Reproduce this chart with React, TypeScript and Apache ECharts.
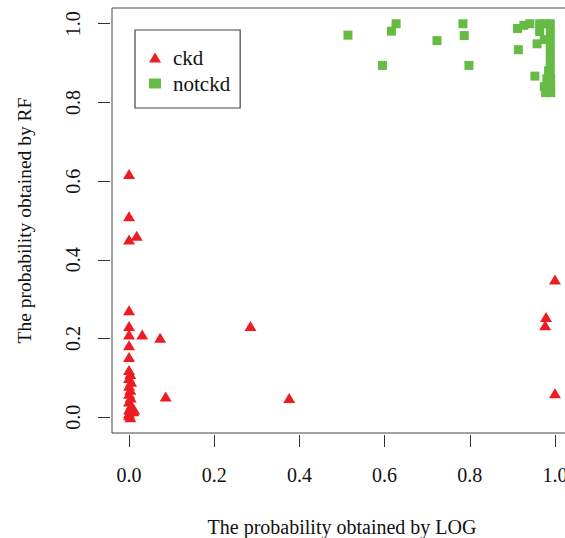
import React, { useEffect, useRef } from "react";
import * as echarts from "echarts";

const tickValues = [0, 0.2, 0.4, 0.6, 0.8, 1.0];
const seriesNames = ["ckd", "notckd"];

// [LOG probability, RF probability]
const ckdPoints = [
  [0, 0.618], [0, 0.511], [0, 0.452], [0.018, 0.461], [0, 0.272], [0, 0.232],
  [0, 0.21], [0.031, 0.21], [0.073, 0.202], [0.285, 0.232], [0, 0.183], [0, 0.153],
  [0.086, 0.053], [0.376, 0.049], [1.0, 0.35], [0.979, 0.255], [0.977, 0.234], [1.0, 0.061],
  [0, 0.12], [0.003, 0.11], [0, 0.1], [0.005, 0.09], [0, 0.08], [0.003, 0.07],
  [0, 0.06], [0.004, 0.05], [0, 0.04], [0.005, 0.03], [0.012, 0.02], [0, 0.02],
  [0.01, 0.015], [0, 0.01], [0.003, 0.0], [0, 0.005],
];

const notckdPoints = [
  [0.514, 0.971], [0.595, 0.894], [0.616, 0.981], [0.627, 1.0], [0.723, 0.957],
  [0.784, 1.0], [0.787, 0.97], [0.798, 0.894],
  [0.912, 0.988], [0.927, 0.996], [0.941, 1.0], [0.914, 0.934], [0.958, 0.949], [0.953, 0.867],
  [0.964, 1.0], [0.978, 1.0], [0.989, 1.0], [0.964, 0.98], [0.989, 0.98],
  [0.975, 0.96], [0.989, 0.96], [0.989, 0.94], [0.989, 0.92], [0.989, 0.9],
  [0.985, 0.88], [0.989, 0.88], [0.981, 0.86], [0.99, 0.86], [0.975, 0.84],
  [0.99, 0.84], [0.978, 0.825], [0.99, 0.825],
];

const FONT = "'Liberation Serif', 'Times New Roman', serif";

export default function App() {
  const ref = useRef<HTMLDivElement>(null);
  useEffect(() => {
    if (!ref.current) return;
    const chart = echarts.init(ref.current, null, { renderer: "svg" });
    const axisCommon = {
      type: "value",
      min: -0.04,
      max: 1.04,
      offset: 2,
      axisLine: { show: false, onZero: false },
      splitLine: { show: false },
      axisTick: {
        show: true,
        inside: false,
        length: 12,
        customValues: tickValues,
        lineStyle: { color: "#333", width: 1 },
      },
      nameLocation: "middle",
      nameTextStyle: { fontFamily: FONT, fontSize: 20, color: "#111" },
    };
    chart.setOption({
      animation: false,
      backgroundColor: "#fff",
      grid: {
        left: 112,
        top: 8,
        width: 460,
        height: 425,
        outerBoundsMode: "none",
        containLabel: false,
        show: true,
        borderColor: "#444",
        borderWidth: 1,
        backgroundColor: "transparent",
      },
      legend: {
        data: seriesNames,
        orient: "vertical",
        left: 135,
        top: 30,
        padding: [17, 10, 14, 14],
        itemGap: 5,
        itemWidth: 12,
        itemHeight: 10,
        borderColor: "#444",
        borderWidth: 1.2,
        textStyle: {
          fontFamily: FONT,
          fontSize: 21,
          color: "#111",
          padding: [0, 0, 0, 7],
        },
      },
      xAxis: {
        ...axisCommon,
        name: "The probability obtained by LOG",
        nameGap: 82,
        axisLabel: {
          customValues: tickValues,
          margin: 30,
          fontFamily: FONT,
          fontSize: 20,
          color: "#111",
          formatter: (v: number) => v.toFixed(1),
        },
      },
      yAxis: {
        ...axisCommon,
        name: "The probability obtained by RF",
        nameGap: 76,
        nameRotate: 90,
        nameTextStyle: { fontFamily: FONT, fontSize: 19.5, color: "#111" },
        axisLabel: {
          customValues: tickValues,
          margin: 27,
          rotate: 90,
          fontFamily: FONT,
          fontSize: 20,
          color: "#111",
          formatter: (v: number) => v.toFixed(1),
        },
      },
      series: [
        {
          name: "ckd",
          type: "scatter",
          symbol: "triangle",
          symbolSize: [12, 10],
          itemStyle: { color: "#ED1C24", opacity: 1 },
          data: ckdPoints,
        },
        {
          name: "notckd",
          type: "scatter",
          symbol: "rect",
          symbolSize: 9,
          itemStyle: { color: "#66BB44", opacity: 1 },
          data: notckdPoints,
        },
      ],
    });
    return () => chart.dispose();
  }, []);
  return (
    <div
      ref={ref}
      style={{ position: "absolute", left: 0, top: 0, width: 565, height: 538 }}
    />
  );
}
